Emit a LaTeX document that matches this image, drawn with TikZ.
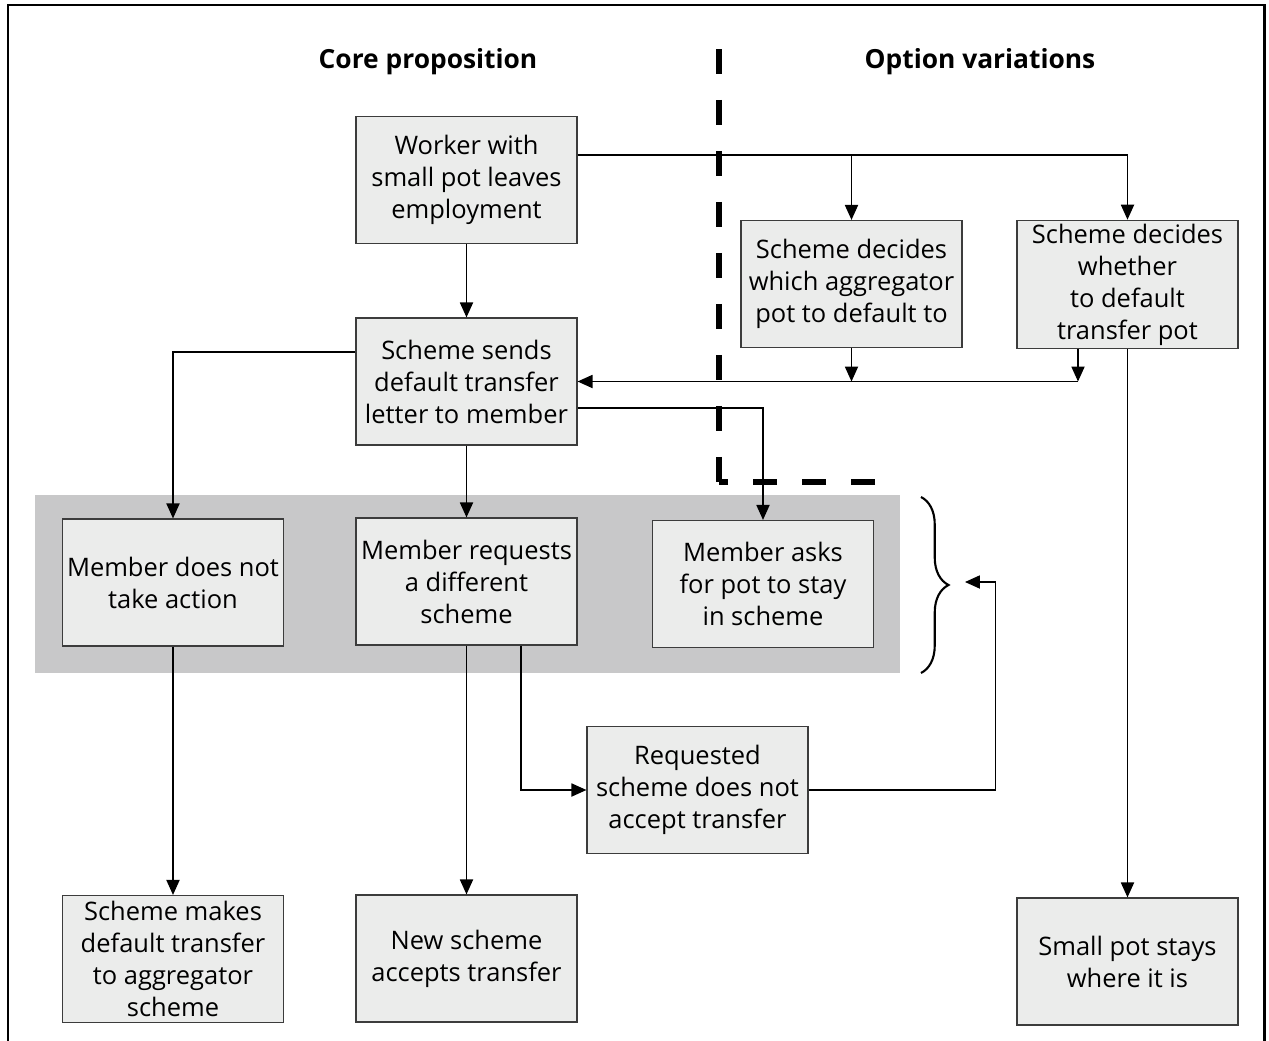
\documentclass[tikz,border=0pt]{standalone}
\usepackage{fontspec}
\setmainfont{Open Sans}
\usetikzlibrary{arrows.meta,decorations.pathreplacing}

\definecolor{boxfill}{HTML}{EBECEB}
\definecolor{bandgray}{HTML}{C8C8C9}
\definecolor{boxline}{HTML}{3C3C3C}

\tikzset{
  stepbox/.style={draw=boxline, line width=0.7pt, fill=boxfill, minimum width=4.42cm, minimum height=2.54cm,
    align=center, inner sep=2pt, font=\fontsize{14.5}{18.2}\selectfont},
  heading/.style={font=\fontsize{15}{18}\selectfont\bfseries},
  arr/.style={line width=0.7pt, -{Triangle[length=8.5pt,width=7.5pt]}},
  splitline/.style={line width=3pt},
}

\begin{document}
\begin{tikzpicture}[x=0.02cm, y=-0.02cm]
  \useasboundingbox (0,0) rectangle (1269,1041);

  % frame, open at the bottom
  \draw[line width=1.7pt] (8,1041) -- (8,5) -- (1264,5) -- (1264,1041);

  % grey band behind the member choices
  \fill[bandgray] (35,495) rectangle (900,673);

  \node[heading] (core) at (428,62) {Core proposition};
  \node[heading] (option) at (980,62) {Option variations};

  % split between core and options
  \draw[splitline, dash pattern=on 0.5cm off 0.52cm] (719,49) -- (719,484.5);
  \draw[splitline, dash pattern=on 0.48cm off 0.5cm] (875,482) -- (719,482);

  \node[stepbox] (worker) at (466.5,180) {Worker with\\small pot leaves\\employment};
  \node[stepbox] (sends) at (466.5,381.5) {Scheme sends\\default transfer\\letter to member};
  \node[stepbox] (which) at (851.5,284) {Scheme decides\\which aggregator\\pot to default to};
  \node[stepbox] (whether) at (1127.5,284.5) {Scheme decides\\whether\\to default\\transfer pot};

  \node[stepbox] (noaction) at (173,582.5) {Member does not\\take action};
  \node[stepbox] (requests) at (466.5,581.5) {Member requests\\a different\\scheme};
  \node[stepbox] (stay) at (763,584) {Member asks\\for pot to stay\\in scheme};
  \node[stepbox] (refused) at (697.5,790) {Requested\\scheme does not\\accept transfer};

  \node[stepbox] (aggr) at (173,959) {Scheme makes\\default transfer\\to aggregator\\scheme};
  \node[stepbox] (newsch) at (466.5,958.5) {New scheme\\accepts transfer};
  \node[stepbox] (stays) at (1127.5,961.5) {Small pot stays\\where it is};

  \draw[line width=1.2pt, decorate, decoration={brace, amplitude=0.55cm}] (921,497) -- (921,673);
  \coordinate (bracetip) at (965,582);
  \coordinate (join) at ([xshift=-0.99cm]whether.south |- sends.east);

  \draw[arr] (worker) -- (sends);
  \draw[arr] ([yshift=0.5cm]worker.east) -| (whether.north);
  \draw[arr] ([yshift=0.5cm]worker.east) -| (which.north);
  \draw[arr] (which.south) -- (which.south |- sends.east);
  \draw[arr] ([xshift=-0.99cm]whether.south) -- (join);
  \draw[arr] (join) -- (sends.east);
  \draw[arr] ([yshift=0.59cm]sends.west) -| (noaction.north);
  \draw[arr] (sends) -- (requests);
  \draw[arr] ([yshift=-0.53cm]sends.east) -| (stay.north);
  \draw[arr] (noaction) -- (aggr);
  \draw[arr] (requests) -- (newsch);
  \draw[arr] ([xshift=1.09cm]requests.south) |- (refused.west);
  \draw[arr] (refused.east) -- ++(187,0) |- (bracetip);
  \draw[arr] (whether) -- (stays);
\end{tikzpicture}
\end{document}
